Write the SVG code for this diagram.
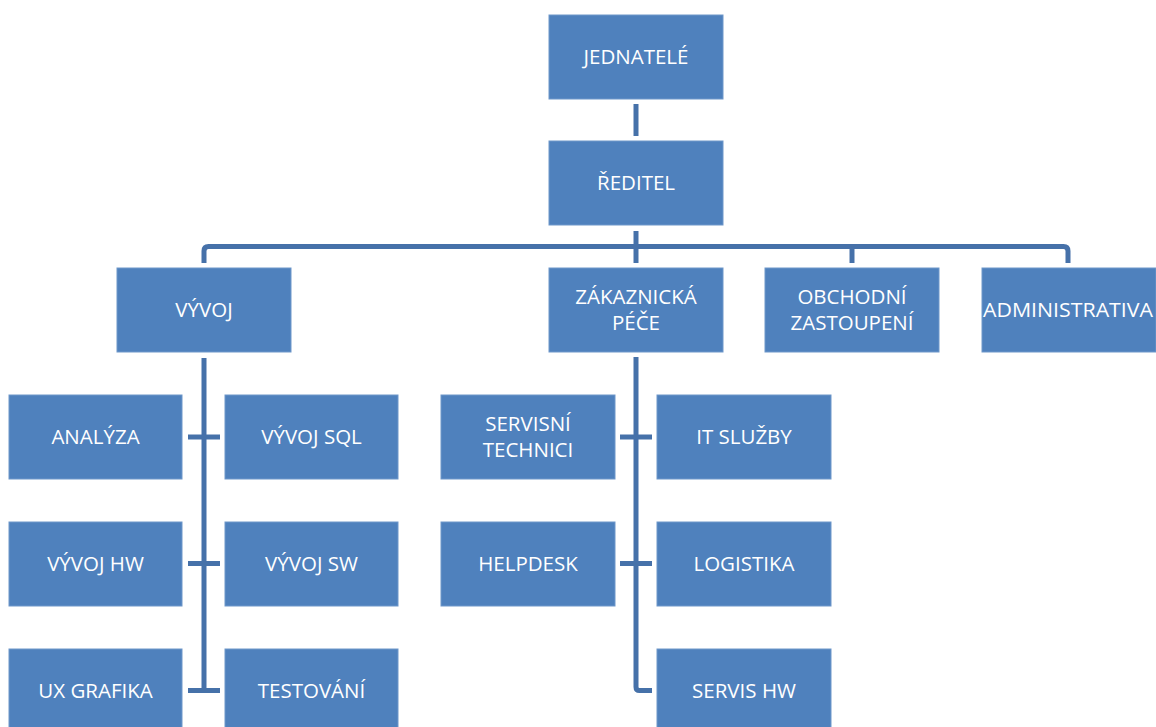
<svg xmlns="http://www.w3.org/2000/svg" width="1156" height="727" viewBox="0 0 1156 727">
<style>
.box{fill:#4F81BD;stroke:#6E97CA;stroke-width:1}
.lbl{font-family:"Open Sans","Liberation Sans",sans-serif;font-size:20.5px;fill:#FFFFFF;text-anchor:middle}
.con{fill:none;stroke:#4671A9;stroke-width:5;stroke-linecap:butt;stroke-linejoin:round}
</style>
<rect width="1156" height="727" fill="#FFFFFF"/>
<g id="connectors">
<path class="con" d="M636,104 V136"/>
<path class="con" d="M636,231 V263"/>
<path class="con" d="M204,263 V251 Q204,246.5 208.5,246.5 H1063.5 Q1068,246.5 1068,251 V263"/>
<path class="con" d="M852,246.5 V263"/>
<path class="con" d="M204,358 V693"/>
<path class="con" d="M188,437 H220"/>
<path class="con" d="M188,563.5 H220"/>
<path class="con" d="M188,690.5 H220"/>
<path class="con" d="M636,357 V687 Q636,690.5 639.5,690.5 H652"/>
<path class="con" d="M620,437 H652"/>
<path class="con" d="M620,563.5 H652"/>
</g>
<g id="n-jednatele"><rect class="box" x="549" y="15" width="174" height="84"/><text class="lbl" x="636" y="63.5">JEDNATELÉ</text></g>
<g id="n-reditel"><rect class="box" x="549" y="141" width="174" height="84"/><text class="lbl" x="636" y="189.5">ŘEDITEL</text></g>
<g id="n-vyvoj"><rect class="box" x="117" y="268" width="174" height="84"/><text class="lbl" x="204" y="316.5">VÝVOJ</text></g>
<g id="n-zakaznicka"><rect class="box" x="549" y="268" width="174" height="84"/><text class="lbl" x="636" y="303.5">ZÁKAZNICKÁ</text><text class="lbl" x="636" y="329.5">PÉČE</text></g>
<g id="n-obchodni"><rect class="box" x="765" y="268" width="174" height="84"/><text class="lbl" x="852" y="303.5">OBCHODNÍ</text><text class="lbl" x="852" y="329.5">ZASTOUPENÍ</text></g>
<g id="n-administrativa"><rect class="box" x="982" y="268" width="174" height="84"/><text class="lbl" x="1068" y="316.5" textLength="170" lengthAdjust="spacingAndGlyphs">ADMINISTRATIVA</text></g>
<g id="n-analyza"><rect class="box" x="9" y="395" width="173" height="84"/><text class="lbl" x="95.5" y="443.5">ANALÝZA</text></g>
<g id="n-vyvoj-sql"><rect class="box" x="225" y="395" width="173" height="84"/><text class="lbl" x="311.5" y="443.5">VÝVOJ SQL</text></g>
<g id="n-vyvoj-hw"><rect class="box" x="9" y="522" width="173" height="84"/><text class="lbl" x="95.5" y="570.5">VÝVOJ HW</text></g>
<g id="n-vyvoj-sw"><rect class="box" x="225" y="522" width="173" height="84"/><text class="lbl" x="311.5" y="570.5">VÝVOJ SW</text></g>
<g id="n-ux-grafika"><rect class="box" x="9" y="649" width="173" height="84"/><text class="lbl" x="95.5" y="697.5">UX GRAFIKA</text></g>
<g id="n-testovani"><rect class="box" x="225" y="649" width="173" height="84"/><text class="lbl" x="311.5" y="697.5">TESTOVÁNÍ</text></g>
<g id="n-servisni-technici"><rect class="box" x="441" y="395" width="174" height="84"/><text class="lbl" x="528" y="430.5">SERVISNÍ</text><text class="lbl" x="528" y="456.5">TECHNICI</text></g>
<g id="n-it-sluzby"><rect class="box" x="657" y="395" width="174" height="84"/><text class="lbl" x="744" y="443.5">IT SLUŽBY</text></g>
<g id="n-helpdesk"><rect class="box" x="441" y="522" width="174" height="84"/><text class="lbl" x="528" y="570.5">HELPDESK</text></g>
<g id="n-logistika"><rect class="box" x="657" y="522" width="174" height="84"/><text class="lbl" x="744" y="570.5">LOGISTIKA</text></g>
<g id="n-servis-hw"><rect class="box" x="657" y="649" width="174" height="84"/><text class="lbl" x="744" y="697.5">SERVIS HW</text></g>
</svg>
